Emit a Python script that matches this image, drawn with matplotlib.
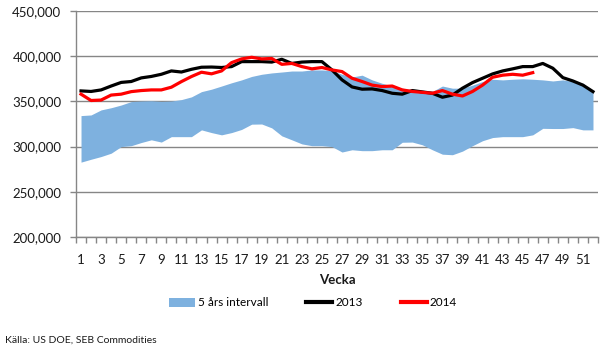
import matplotlib
matplotlib.use("Agg")
import matplotlib.pyplot as plt
from matplotlib.patches import Patch
from matplotlib.lines import Line2D
from matplotlib.ticker import FuncFormatter, MultipleLocator

plt.rcParams['font.family'] = ['Lato', 'DejaVu Sans']

weeks = list(range(1, 53))

band_low = [282800, 286000, 289000, 292700, 300000, 301000, 304500, 307500, 305000, 311000,
            311000, 311000, 318500, 315500, 313000, 315500, 319000, 324800, 325000, 320700,
            311900, 307500, 303000, 301000, 301000, 300000, 294000, 296500, 295500, 295500,
            296500, 296500, 304800, 305000, 302000, 296500, 291600, 291000, 295000, 301000,
            306500, 310000, 311000, 311000, 311000, 313000, 320200, 320000, 320000, 321000,
            318500, 318500]

band_high = [334300, 335000, 340600, 343000, 346000, 349800, 350400, 350700, 350000, 350400,
             352000, 355000, 360800, 363500, 367000, 370600, 373800, 377600, 380000, 381500,
             382500, 383600, 383600, 384800, 384800, 384000, 380000, 377000, 379000, 373800,
             370000, 367000, 364600, 362700, 361000, 361000, 367000, 364600, 364600, 368000,
             372000, 374500, 373800, 374500, 375000, 374500, 373800, 372600, 373800, 372000,
             370000, 360800]

y2013 = [361600, 361000, 362700, 367000, 371000, 372000, 376000, 377600, 380000, 383700,
         382500, 385500, 387800, 388000, 387500, 388500, 394000, 394000, 394000, 393500,
         396600, 392000, 393500, 394000, 394000, 384800, 373800, 366000, 363500, 363800,
         362000, 359000, 358000, 362000, 360500, 359000, 354600, 357000, 364600, 370800,
         375600, 380400, 383700, 386000, 388500, 388500, 392000, 386700, 376300, 372600,
         368000, 360800]

y2014 = [358000, 351000, 351500, 357000, 358000, 360800, 362000, 362700, 362700, 365700,
         371900, 377500, 382300, 380500, 383700, 392900, 397000, 398800, 397000, 397500,
         391000, 392000, 388500, 386000, 387500, 384800, 383000, 375600, 372000, 368000,
         366400, 367000, 362700, 361000, 360000, 359000, 362000, 358000, 356000, 361000,
         368000, 376700, 379000, 380000, 379000, 381800]

y_ticks = [200000, 250000, 300000, 350000, 400000, 450000]

fig = plt.figure(figsize=(6.03, 3.47), dpi=100)
ax = fig.add_axes([76 / 603, 1 - 237 / 347, (598 - 76) / 603, (237 - 11) / 347])

grid_col = '#868686'
band_col = '#7EB1DF'

ax.fill_between(weeks, band_low, band_high, color=band_col, linewidth=0, zorder=2)
ax.plot(weeks, y2013, color='black', lw=2.3, zorder=3, solid_joinstyle='round')
ax.plot(weeks[:len(y2014)], y2014, color='#FF0000', lw=2.3, zorder=4, solid_joinstyle='round')

ax.set_xlim(0.5, 52.5)
ax.set_ylim(200000, 450000)
ax.set_yticks(y_ticks)
ax.yaxis.set_major_formatter(FuncFormatter(lambda v, p: f"{int(v):,}"))
ax.grid(axis='y', color=grid_col, lw=1.0, zorder=1)
ax.set_axisbelow(True)

ax.set_xticks(weeks[::2])
ax.set_xticklabels([str(w) for w in weeks[::2]])
ax.xaxis.set_minor_locator(MultipleLocator(1))
ax.set_xticks([w + 0.5 for w in range(0, 53)], minor=True)
ax.tick_params(axis='x', which='major', length=0, pad=12, labelsize=9.5, colors='#1a1a1a')
ax.tick_params(axis='x', which='minor', length=4.5, width=1, color=grid_col, direction='out')
ax.tick_params(axis='y', length=4.5, width=1, color=grid_col, labelsize=9.5,
               labelcolor='#1a1a1a', pad=6)

for s in ['top', 'right']:
    ax.spines[s].set_visible(False)
for s in ['left', 'bottom']:
    ax.spines[s].set_color(grid_col)
    ax.spines[s].set_linewidth(1.0)

ax.set_xlabel('Vecka', fontsize=9.5, fontweight='bold', labelpad=6, color='#1a1a1a')

handles = [Patch(facecolor=band_col, edgecolor='none'),
           Line2D([], [], color='black', lw=3),
           Line2D([], [], color='#FF0000', lw=3)]
labels = ['5 års intervall', '2013', '2014']
fig.legend(handles, labels, loc='center', bbox_to_anchor=(313 / 603, 1 - 303 / 347),
           ncol=3, frameon=False, fontsize=8.5, handlelength=2.2, handleheight=0.7,
           handletextpad=0.25, columnspacing=3.2)

fig.text(5 / 603, 1 - 340 / 347, 'Källa: US DOE, SEB Commodities',
         family=['Liberation Sans Narrow', 'Lato', 'DejaVu Sans'], fontsize=7.5,
         va='center', ha='left', color='#1a1a1a')

fig.savefig('out.png', dpi=100)
